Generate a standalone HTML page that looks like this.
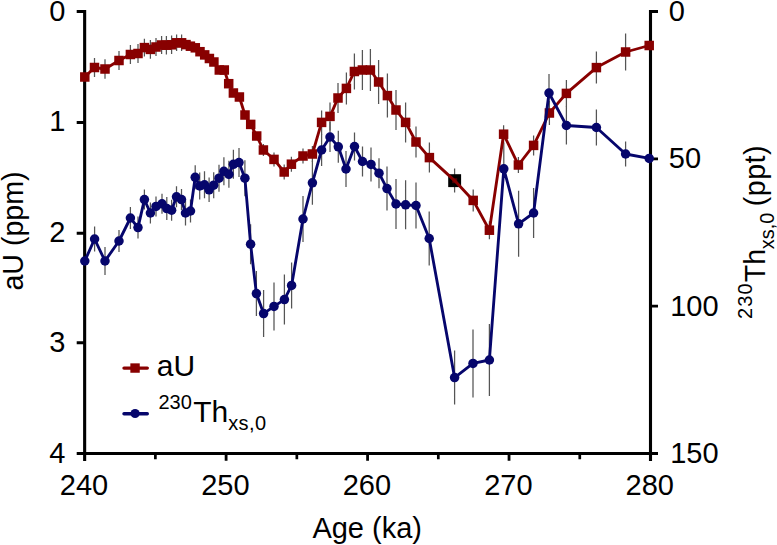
<!DOCTYPE html>
<html><head><meta charset="utf-8"><title>Chart</title>
<style>
html,body{margin:0;padding:0;background:#fff}
svg{display:block}
.t text{font-family:"Liberation Sans",sans-serif;font-size:29px;fill:#000}
.t .ax,.t .ax text{font-size:28.6px}
.t .lg text{font-size:30px}
.t .lg .s,.t .ax .s{font-size:20px}
</style></head><body>
<svg width="777" height="545" viewBox="0 0 777 545">
<rect width="777" height="545" fill="#fff"/>
<g stroke="#555" stroke-width="1.25" fill="none">
<path d="M84.8 67.5V86.5M94.5 58V77M105 59.2V78.8M119 50.9V70.1M130.4 45.1V63.9M138 43.9V63.1M144.4 38.8V56.4M150.4 40V58.8M156 38V56M161.6 36V54M166.4 36V54.4M171.6 35.6V54M176.6 34.6V51M181.6 34.6V51M263.4 144V156M274 152.4V166.4M284.2 164.5V179.5M291.4 156.7V171.7M303 148.5V163.5M312.4 146V162M321.6 110.4V134.4M330 102.4V130.4M338 83V113M346.4 72.4V104.4M354.4 53.5V89.5M362.4 50V90M370.4 49V91M378.6 60V104M387.4 73.6V117.6M396 90V130M405.6 102.4V142.4M416 126.5V157.5M429.4 142.6V172.6M454.6 168.6V192.6M473.2 189.4V211.4M489.4 221.2V239.2M503.6 125.2V143.2M518.4 157V173M533.6 135.4V155.4M549.4 101V125M566.4 79.9V106.9M596.4 51.6V83.6M625.6 33.4V70.6"/>
<path d="M84.8 249V273M94.6 226.5V251.5M105 247V275M119 230V252M130.4 207V229M138 216.6V238.6M144.4 189.6V209.6M150.4 202.5V223.5M156 196.4V216.4M162 193.8V213.8M166.8 197.1V220.1M171.6 199.7V220.7M176.5 186.3V207.3M181.5 189.1V210.1M185.5 200.5V225.5M190.5 199.5V222.5M195.2 165.3V189.3M199.7 172.5V199.5M204.5 171.3V198.3M209.1 177.5V202.1M213.7 172.2V198.2M219 164.7V191.7M223.9 157.3V185.3M228.9 160.8V187.8M233.4 149.8V178.8M239 148.1V177.1M244.9 160.2V196.2M250.6 224.2V264.2M256.4 271.1V316.1M263.6 290.1V337.1M274 282.4V330.4M284.4 274.6V324.6M291.6 262.4V308.4M303 196V242M312.4 160.8V204.8M321.6 134V166M330 122V152M338.3 130.8V162.8M346 151V187M354.5 132.5V160.5M362.5 146.5V176.5M371 147.4V181.4M379 158.2V188.2M387 166.6V210.6M396 179V229M405.6 180.3V229.3M416 182.5V228.5M429.2 211.5V265.5M454.6 350.6V404.6M473 329.4V397.4M489.4 324V396M503.8 142.8V176.8M518.6 190.8V256.8M533.6 188V238M549 74V112M566.4 106.5V144.5M596.4 109.5V145.5M625.6 141.5V166.5"/>
</g>
<g stroke="#000" fill="none">
<path stroke-width="3.1" d="M84.65 10.05V461M650.5 10.05V461M76.7 453.5H658"/>
<path stroke-width="2.9" d="M76.7 11.5H84.65M76.7 122.5H84.65M76.7 233.2H84.65M76.7 342.7H84.65M650.5 11.5H658M650.5 158.83H658M650.5 306.17H658"/>
<path stroke-width="2.8" d="M226.11 453.5V460.8M367.58 453.5V460.8M509.04 453.5V460.8"/>
<path stroke-width="2.7" d="M155.38 453.5V459.2M296.84 453.5V459.2M438.31 453.5V459.2M579.77 453.5V459.2"/>
</g>
<rect x="448.2" y="174.2" width="12.9" height="12.9" fill="#000"/><rect x="452.2" y="178.2" width="5" height="5" fill="#4a0006"/>
<g fill="#880000">
<rect x="80.05" y="72.25" width="9.5" height="9.5"/>
<rect x="89.75" y="62.75" width="9.5" height="9.5"/>
<rect x="100.25" y="64.25" width="9.5" height="9.5"/>
<rect x="114.25" y="55.75" width="9.5" height="9.5"/>
<rect x="125.65" y="49.75" width="9.5" height="9.5"/>
<rect x="133.25" y="48.75" width="9.5" height="9.5"/>
<rect x="139.65" y="42.85" width="9.5" height="9.5"/>
<rect x="145.65" y="44.65" width="9.5" height="9.5"/>
<rect x="151.25" y="42.25" width="9.5" height="9.5"/>
<rect x="156.85" y="40.25" width="9.5" height="9.5"/>
<rect x="161.65" y="40.45" width="9.5" height="9.5"/>
<rect x="166.85" y="40.05" width="9.5" height="9.5"/>
<rect x="171.85" y="38.05" width="9.5" height="9.5"/>
<rect x="176.85" y="38.05" width="9.5" height="9.5"/>
<rect x="181.25" y="39.85" width="9.5" height="9.5"/>
<rect x="185.65" y="41.45" width="9.5" height="9.5"/>
<rect x="190.55" y="43.05" width="9.5" height="9.5"/>
<rect x="195.25" y="46.95" width="9.5" height="9.5"/>
<rect x="199.95" y="50.15" width="9.5" height="9.5"/>
<rect x="204.65" y="53.75" width="9.5" height="9.5"/>
<rect x="209.15" y="57.25" width="9.5" height="9.5"/>
<rect x="214.55" y="65.25" width="9.5" height="9.5"/>
<rect x="219.55" y="65.25" width="9.5" height="9.5"/>
<rect x="223.95" y="78.95" width="9.5" height="9.5"/>
<rect x="228.65" y="88.25" width="9.5" height="9.5"/>
<rect x="234.65" y="92.25" width="9.5" height="9.5"/>
<rect x="240.25" y="110.25" width="9.5" height="9.5"/>
<rect x="245.95" y="119.65" width="9.5" height="9.5"/>
<rect x="251.95" y="131.25" width="9.5" height="9.5"/>
<rect x="258.65" y="145.25" width="9.5" height="9.5"/>
<rect x="269.25" y="154.65" width="9.5" height="9.5"/>
<rect x="279.45" y="167.25" width="9.5" height="9.5"/>
<rect x="286.65" y="159.45" width="9.5" height="9.5"/>
<rect x="298.25" y="151.25" width="9.5" height="9.5"/>
<rect x="307.65" y="149.25" width="9.5" height="9.5"/>
<rect x="316.85" y="117.65" width="9.5" height="9.5"/>
<rect x="325.25" y="111.65" width="9.5" height="9.5"/>
<rect x="333.25" y="93.25" width="9.5" height="9.5"/>
<rect x="341.65" y="83.65" width="9.5" height="9.5"/>
<rect x="349.65" y="66.75" width="9.5" height="9.5"/>
<rect x="357.65" y="65.25" width="9.5" height="9.5"/>
<rect x="365.65" y="65.25" width="9.5" height="9.5"/>
<rect x="373.85" y="77.25" width="9.5" height="9.5"/>
<rect x="382.65" y="90.85" width="9.5" height="9.5"/>
<rect x="391.25" y="105.25" width="9.5" height="9.5"/>
<rect x="400.85" y="117.65" width="9.5" height="9.5"/>
<rect x="411.25" y="137.25" width="9.5" height="9.5"/>
<rect x="424.65" y="152.85" width="9.5" height="9.5"/>
<rect x="468.45" y="195.65" width="9.5" height="9.5"/>
<rect x="484.65" y="225.45" width="9.5" height="9.5"/>
<rect x="498.85" y="129.45" width="9.5" height="9.5"/>
<rect x="513.65" y="160.25" width="9.5" height="9.5"/>
<rect x="528.85" y="140.65" width="9.5" height="9.5"/>
<rect x="544.65" y="108.25" width="9.5" height="9.5"/>
<rect x="561.65" y="88.65" width="9.5" height="9.5"/>
<rect x="591.65" y="62.85" width="9.5" height="9.5"/>
<rect x="620.85" y="47.25" width="9.5" height="9.5"/>
<rect x="644.45" y="40.75" width="9.5" height="9.5"/>
</g>
<polyline fill="none" stroke="#880000" stroke-width="2.85" stroke-linejoin="round" points="84.8,77 94.5,67.5 105,69 119,60.5 130.4,54.5 138,53.5 144.4,47.6 150.4,49.4 156,47 161.6,45 166.4,45.2 171.6,44.8 176.6,42.8 181.6,42.8 186,44.6 190.4,46.2 195.3,47.8 200,51.7 204.7,54.9 209.4,58.5 213.9,62 219.3,70 224.3,70 228.7,83.7 233.4,93 239.4,97 245,115 250.7,124.4 256.7,136 263.4,150 274,159.4 284.2,172 291.4,164.2 303,156 312.4,154 321.6,122.4 330,116.4 338,98 346.4,88.4 354.4,71.5 362.4,70 370.4,70 378.6,82 387.4,95.6 396,110 405.6,122.4 416,142 429.4,157.6 454.6,180.6 473.2,200.4 489.4,230.2 503.6,134.2 518.4,165 533.6,145.4 549.4,113 566.4,93.4 596.4,67.6 625.6,52 649.2,45.5"/>
<polyline fill="none" stroke="#06066c" stroke-width="2.85" stroke-linejoin="round" points="84.8,261 94.6,239 105,261 119,241 130.4,218 138,227.6 144.4,199.6 150.4,213 156,206.4 162,203.8 166.8,208.6 171.6,210.2 176.5,196.8 181.5,199.6 185.5,213 190.5,211 195.2,177.3 199.7,186 204.5,184.8 209.1,189.8 213.7,185.2 219,178.2 223.9,171.3 228.9,174.3 233.4,164.3 239,162.6 244.9,178.2 250.6,244.2 256.4,293.6 263.6,313.6 274,306.4 284.4,299.6 291.6,285.4 303,219 312.4,182.8 321.6,150 330,137 338.3,146.8 346,169 354.5,146.5 362.5,161.5 371,164.4 379,173.2 387,188.6 396,204 405.6,204.8 416,205.5 429.2,238.5 454.6,377.6 473,363.4 489.4,360 503.8,168.8 518.6,223.8 533.6,213 549,93 566.4,125.5 596.4,127.5 625.6,154 649.2,158.4"/>
<g fill="#06066c">
<circle cx="84.8" cy="261" r="4.75"/>
<circle cx="94.6" cy="239" r="4.75"/>
<circle cx="105" cy="261" r="4.75"/>
<circle cx="119" cy="241" r="4.75"/>
<circle cx="130.4" cy="218" r="4.75"/>
<circle cx="138" cy="227.6" r="4.75"/>
<circle cx="144.4" cy="199.6" r="4.75"/>
<circle cx="150.4" cy="213" r="4.75"/>
<circle cx="156" cy="206.4" r="4.75"/>
<circle cx="162" cy="203.8" r="4.75"/>
<circle cx="166.8" cy="208.6" r="4.75"/>
<circle cx="171.6" cy="210.2" r="4.75"/>
<circle cx="176.5" cy="196.8" r="4.75"/>
<circle cx="181.5" cy="199.6" r="4.75"/>
<circle cx="185.5" cy="213" r="4.75"/>
<circle cx="190.5" cy="211" r="4.75"/>
<circle cx="195.2" cy="177.3" r="4.75"/>
<circle cx="199.7" cy="186" r="4.75"/>
<circle cx="204.5" cy="184.8" r="4.75"/>
<circle cx="209.1" cy="189.8" r="4.75"/>
<circle cx="213.7" cy="185.2" r="4.75"/>
<circle cx="219" cy="178.2" r="4.75"/>
<circle cx="223.9" cy="171.3" r="4.75"/>
<circle cx="228.9" cy="174.3" r="4.75"/>
<circle cx="233.4" cy="164.3" r="4.75"/>
<circle cx="239" cy="162.6" r="4.75"/>
<circle cx="244.9" cy="178.2" r="4.75"/>
<circle cx="250.6" cy="244.2" r="4.75"/>
<circle cx="256.4" cy="293.6" r="4.75"/>
<circle cx="263.6" cy="313.6" r="4.75"/>
<circle cx="274" cy="306.4" r="4.75"/>
<circle cx="284.4" cy="299.6" r="4.75"/>
<circle cx="291.6" cy="285.4" r="4.75"/>
<circle cx="303" cy="219" r="4.75"/>
<circle cx="312.4" cy="182.8" r="4.75"/>
<circle cx="321.6" cy="150" r="4.75"/>
<circle cx="330" cy="137" r="4.75"/>
<circle cx="338.3" cy="146.8" r="4.75"/>
<circle cx="346" cy="169" r="4.75"/>
<circle cx="354.5" cy="146.5" r="4.75"/>
<circle cx="362.5" cy="161.5" r="4.75"/>
<circle cx="371" cy="164.4" r="4.75"/>
<circle cx="379" cy="173.2" r="4.75"/>
<circle cx="387" cy="188.6" r="4.75"/>
<circle cx="396" cy="204" r="4.75"/>
<circle cx="405.6" cy="204.8" r="4.75"/>
<circle cx="416" cy="205.5" r="4.75"/>
<circle cx="429.2" cy="238.5" r="4.75"/>
<circle cx="454.6" cy="377.6" r="4.75"/>
<circle cx="473" cy="363.4" r="4.75"/>
<circle cx="489.4" cy="360" r="4.75"/>
<circle cx="503.8" cy="168.8" r="4.75"/>
<circle cx="518.6" cy="223.8" r="4.75"/>
<circle cx="533.6" cy="213" r="4.75"/>
<circle cx="549" cy="93" r="4.75"/>
<circle cx="566.4" cy="125.5" r="4.75"/>
<circle cx="596.4" cy="127.5" r="4.75"/>
<circle cx="625.6" cy="154" r="4.75"/>
<circle cx="649.2" cy="158.4" r="4.75"/>
</g>
<path d="M124 368.1H147.3" stroke="#880000" stroke-width="3.4" stroke-linecap="round"/><rect x="130.35" y="363.35" width="9.4" height="9.4" fill="#880000"/>
<path d="M124 413.8H147.3" stroke="#06066c" stroke-width="3.4" stroke-linecap="round"/><circle cx="135.1" cy="413.5" r="4.6" fill="#06066c"/>
<g class="t"><text x="65.4" y="20.9" text-anchor="end">0</text><text x="65.4" y="131.3" text-anchor="end">1</text><text x="65.4" y="241.7" text-anchor="end">2</text><text x="65.4" y="352.1" text-anchor="end">3</text><text x="65.4" y="462.5" text-anchor="end">4</text><text x="668.8" y="21.1">0</text><text x="668.8" y="168.43">50</text><text x="670.2" y="315.77">100</text><text x="670.2" y="463.1">150</text><text x="83.95" y="495" text-anchor="middle">240</text><text x="225.41" y="495" text-anchor="middle">250</text><text x="366.88" y="495" text-anchor="middle">260</text><text x="508.34" y="495" text-anchor="middle">270</text><text x="649.8" y="495" text-anchor="middle">280</text><text x="367.2" y="538" text-anchor="middle">Age (ka)</text><g class="lg"><text x="156.8" y="376.4">aU</text><text class="s" x="158.4" y="409.3">230</text><text x="193.2" y="422.1">Th</text><text class="s" x="228.2" y="430.4" letter-spacing="0.4">xs,0</text></g><text class="ax" transform="translate(22.8 231) rotate(-90)" text-anchor="middle">aU (ppm)</text><g class="ax" transform="translate(765 318.6) rotate(-90)"><text class="s" x="-0.4" y="-13.2" letter-spacing="1.1">230</text><text x="36.3" y="0">Th</text><text class="s" x="69.3" y="9.3">xs,0</text><text x="112.4" y="0" letter-spacing="0.5">(ppt)</text></g></g>
</svg>
</body></html>
